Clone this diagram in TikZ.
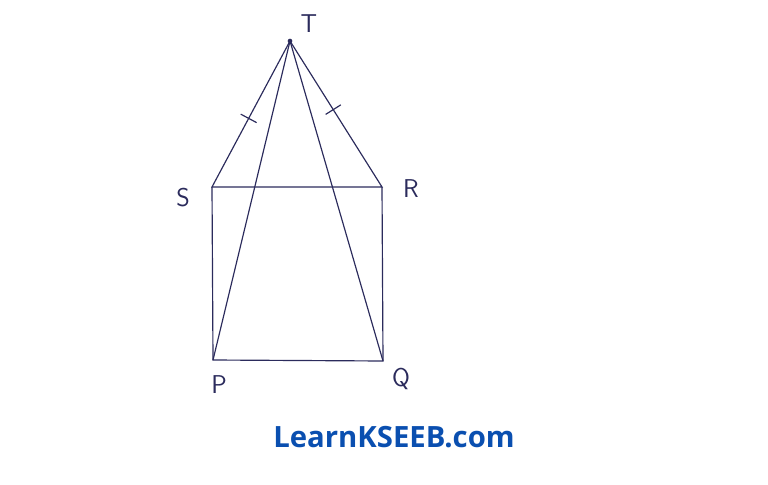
\documentclass[tikz,border=0pt]{standalone}
\usepackage{fontspec}
\newfontfamily\webfont{Open Sans}
\usetikzlibrary{calc}
\definecolor{ink1}{rgb}{0.17,0.17,0.36}
\definecolor{blue1}{rgb}{0.04,0.31,0.69}

\begin{document}
\begin{tikzpicture}[x=0.03cm,y=-0.03cm,line width=1pt,draw=ink1]
  \tikzstyle{vertex}=[circle,fill=ink1,inner sep=0pt,minimum size=0pt]
  \tikzstyle{label1}=[text=ink1,font=\sffamily\fontsize{22}{22}\selectfont]
  \tikzstyle{tick}=[draw=ink1]
  \useasboundingbox (0,0) rectangle (768,485);

  \node[vertex,minimum size=4pt] (T) at (290,41)  {};
  \node[vertex]  (S)  at (212,187) {};
  \node[vertex]  (R)  at (382,187) {};
  \node[vertex]  (P)  at (213,360) {};
  \node[vertex]  (Q)  at (383,361) {};

  \node[label1] (lT) at (309,24)  {T};
  \node[label1] (lS) at (183,198) {S};
  \node[label1] (lR) at (411,189) {R};
  \node[label1] (lP) at (219,385) {P};
  \node[label1] (lQ) at (401,379) {Q};

  \draw (T.center) -- (S.center) -- (R.center) -- cycle;
  \draw (S.center) -- (P.center) -- (Q.center) -- (R.center);
  \draw (T.center) -- (P.center);
  \draw (T.center) -- (Q.center);

  % equal sides
  \coordinate (mTS) at ($(T)!0.53!(S)$);
  \coordinate (mTR) at ($(T)!0.47!(R)$);
  \draw[tick] ($(mTS)!0.27cm!90:(T)$) -- ($(mTS)!0.27cm!-90:(T)$);
  \draw[tick] ($(mTR)!0.27cm!90:(T)$) -- ($(mTR)!0.27cm!-90:(T)$);

  \node[text=blue1,font=\webfont\bfseries\fontsize{25}{25}\selectfont] (site) at (394,437) {LearnKSEEB.com};
\end{tikzpicture}
\end{document}
